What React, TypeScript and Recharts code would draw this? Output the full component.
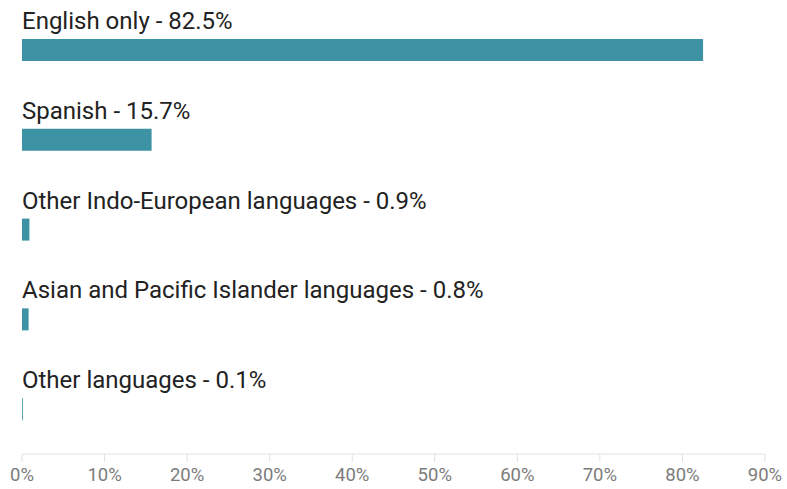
import { BarChart, Bar, XAxis, YAxis, LabelList } from "recharts";

const categories = [
  "English only",
  "Spanish",
  "Other Indo-European languages",
  "Asian and Pacific Islander languages",
  "Other languages",
];
const shares = [82.5, 15.7, 0.9, 0.8, 0.1];
const xTicks = [0, 10, 20, 30, 40, 50, 60, 70, 80, 90];

const data = categories.map((name, i) => ({ name, value: shares[i] }));

const FONT = "Roboto, 'Noto Sans', sans-serif";

function BarTitle(props: any) {
  const { x, y, index } = props;
  return (
    <text x={x} y={y - 10} fill="#222" fontSize={24} fontFamily={FONT}>
      {`${categories[index]} - ${shares[index]}%`}
    </text>
  );
}

export default function App() {
  return (
    <div style={{ position: "absolute", left: 0, top: 0, background: "#fff" }}>
      <BarChart
        width={787}
        height={489}
        data={data}
        layout="vertical"
        margin={{ top: 5, right: 22, bottom: 0, left: 22 }}
      >
        <XAxis
          type="number"
          domain={[0, 90]}
          ticks={xTicks}
          tickFormatter={(v) => `${v}%`}
          height={35}
          stroke="#e2e2e2"
          tickSize={8}
          tickMargin={6}
          tick={{ fill: "#7c7c7c", fontSize: 18.5, fontFamily: FONT }}
          interval={0}
        />
        <YAxis type="category" dataKey="name" hide />
        <Bar dataKey="value" fill="#3d93a4" barSize={22} isAnimationActive={false}>
          <LabelList dataKey="value" content={<BarTitle />} />
        </Bar>
      </BarChart>
    </div>
  );
}
